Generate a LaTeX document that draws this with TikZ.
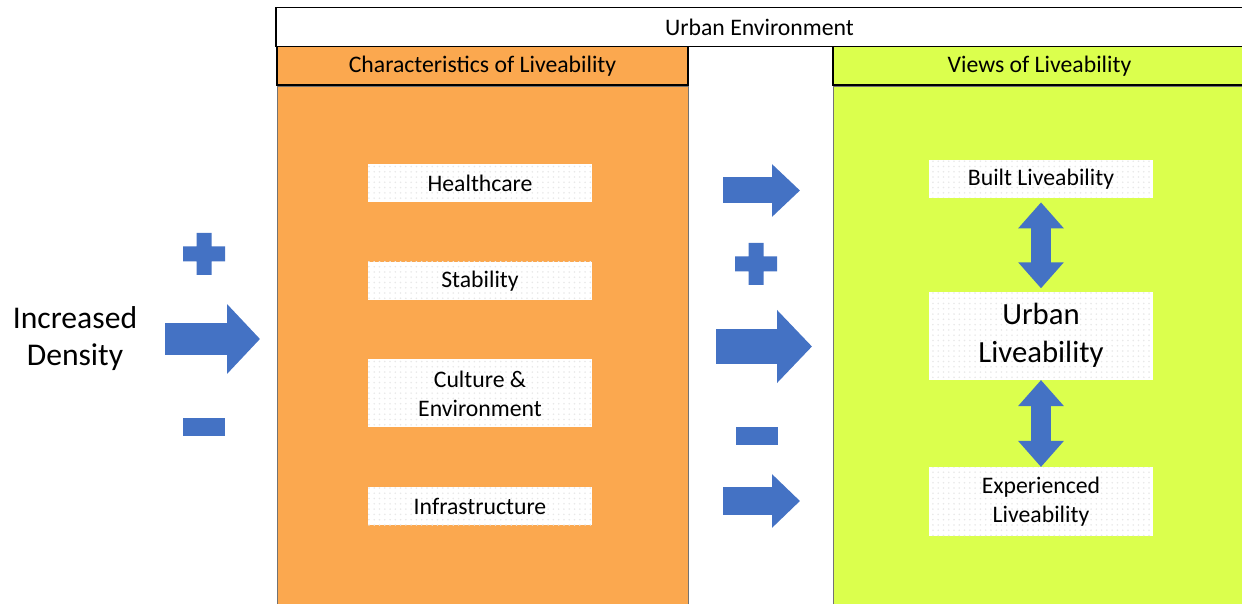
\documentclass[tikz,border=0pt]{standalone}
\usepackage{fontspec}
\setmainfont{Carlito}
\usepackage{xcolor}
\usetikzlibrary{positioning,arrows.meta,patterns}

\definecolor{charfill}{HTML}{FBA84F}
\definecolor{viewfill}{HTML}{DBFF4D}
\definecolor{signblue}{HTML}{4472C4}

\tikzset{
	plussign/.pic={\fill[signblue] (-21,-7.5) rectangle (21,7.5) (-7.5,-21) rectangle (7.5,21);},
	minussign/.pic={\fill[signblue] (-21,-9) rectangle (21,9);}
}

\begin{document}
\begin{tikzpicture}[x=0.02cm, y=-0.02cm, node distance=1.18cm,
		head/.style={rectangle, draw, line width=0.8pt, minimum height=0.77cm, font=\fontsize{13.5}{16}\selectfont},
		body/.style={rectangle, draw=black!55, minimum height=10.48cm},
		item/.style={rectangle, fill=white, postaction={pattern=dots, pattern color=black!9}, minimum width=4.48cm, minimum height=0.76cm, align=center, font=\fontsize{13.5}{16.5}\selectfont},
		rarrow/.style n args={3}{draw=signblue, line width=#1, -{Triangle[length=#2, width=#3]}},
		dblarrow/.style={draw=signblue, line width=0.4cm, {Triangle[length=0.52cm, width=0.88cm]}-{Triangle[length=0.52cm, width=0.88cm]}}]
				\useasboundingbox (0,0) rectangle (1242,604);
				\clip (0,0) rectangle (1242,604);

				\node[body, fill=charfill, minimum width=8.22cm] (charbody) at (482.5,348) {};
				\node[body, fill=viewfill, minimum width=8.26cm] (viewbody) at (1039.5,348) {};
				\node[head, fill=white, minimum width=19.34cm] (env) at (759.5,27) {Urban Environment};
				\node[head, fill=charfill, minimum width=8.22cm, above=0pt of charbody] (charhead) {Characteristics of Liveability};
				\node[head, fill=viewfill, minimum width=8.26cm, above=0pt of viewbody] (viewhead) {Views of Liveability};

				\node[item] (health) at (480,183) {Healthcare};
				\node[item, below=of health] (stab) {Stability};
				\node[item, below=of stab, minimum height=1.36cm] (culture) {Culture \&\\Environment};
				\node[item, below=of culture] (infra) {Infrastructure};

				\node[item] (built) at (1041,179) {Built Liveability};
				\node[item, below=1.86cm of built, minimum height=1.76cm, font=\fontsize{17.5}{21.5}\selectfont] (urban) {Urban\\Liveability};
				\node[item, below=1.74cm of urban, minimum height=1.38cm] (exper) {Experienced\\Liveability};

				\node[align=center, font=\fontsize{18}{21}\selectfont] (density) at (75,339) {Increased\\Density};

				\coordinate (inA) at (165,339);
				\coordinate (inB) at (260,339);
				\coordinate (topA) at (723,190.5);
				\coordinate (topB) at (800,190.5);
				\coordinate (midA) at (716,346.5);
				\coordinate (midB) at (812,346.5);
				\coordinate (lowA) at (723,501);
				\coordinate (lowB) at (800,501);

				\draw[rarrow={0.66cm}{0.66cm}{1.36cm}] (inA) -- (inB);
				\draw[rarrow={0.52cm}{0.56cm}{1.02cm}] (topA) -- (topB);
				\draw[rarrow={0.7cm}{0.7cm}{1.42cm}] (midA) -- (midB);
				\draw[rarrow={0.56cm}{0.56cm}{1.04cm}] (lowA) -- (lowB);

				\draw[dblarrow, shorten <=0.08cm, shorten >=0.06cm] (built) -- (urban);
				\draw[dblarrow] (urban) -- (exper);

				\pic at (204,254) {plussign};
				\pic at (204,427) {minussign};
				\pic at (756,264) {plussign};
				\pic at (756.5,436) {minussign};
			\end{tikzpicture}
\end{document}
